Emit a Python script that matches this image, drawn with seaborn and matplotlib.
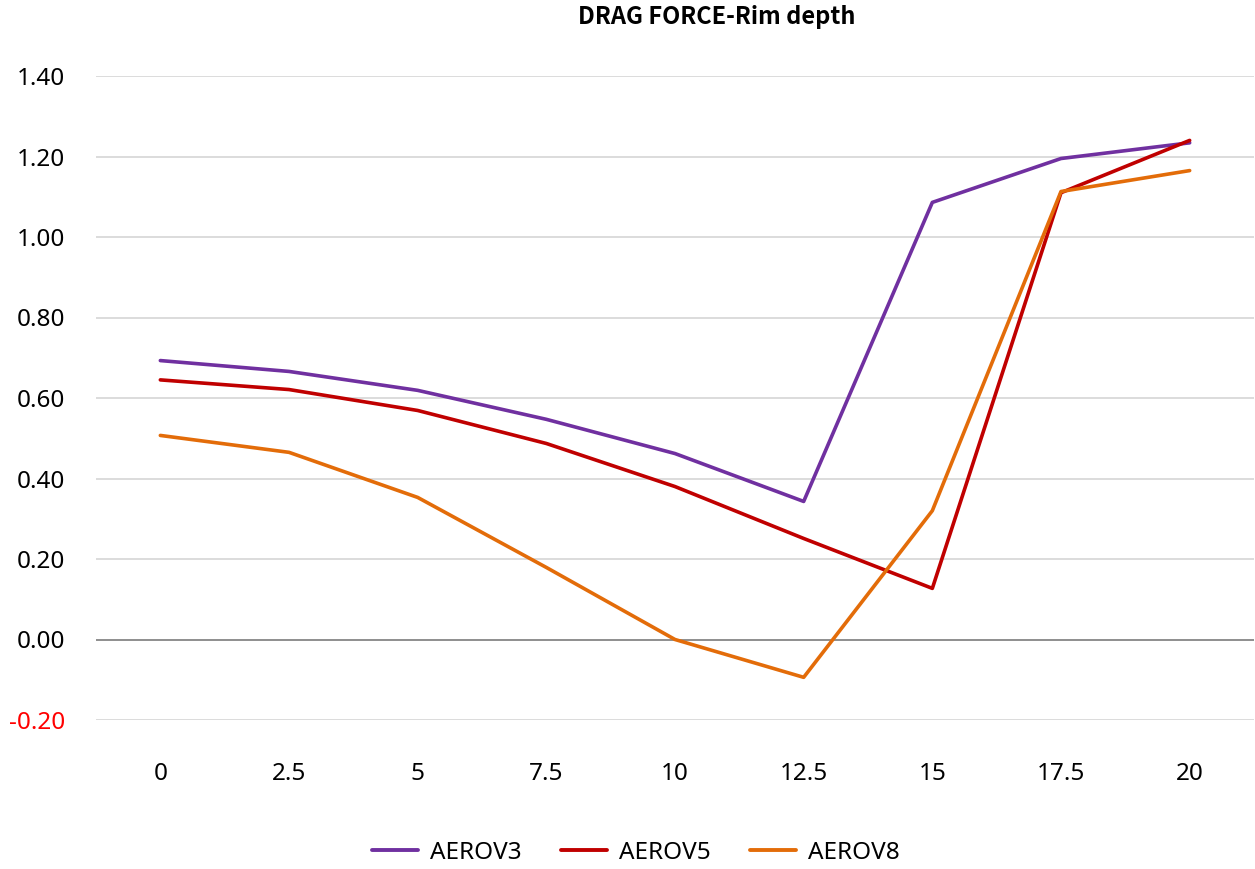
import matplotlib
matplotlib.use("Agg")
import matplotlib.pyplot as plt
import seaborn as sns
import pandas as pd
from matplotlib.lines import Line2D

rim_depth = [0, 2.5, 5, 7.5, 10, 12.5, 15, 17.5, 20]
aerov3 = [0.693, 0.666, 0.619, 0.547, 0.462, 0.343, 1.086, 1.195, 1.234]
aerov5 = [0.645, 0.621, 0.569, 0.487, 0.380, 0.251, 0.127, 1.110, 1.240]
aerov8 = [0.507, 0.465, 0.353, 0.179, 0.000, -0.094, 0.320, 1.113, 1.165]
series_names = ["AEROV3", "AEROV5", "AEROV8"]
colors = ["#7030A0", "#C00000", "#E36C09"]
y_ticks = [-0.20, 0.00, 0.20, 0.40, 0.60, 0.80, 1.00, 1.20, 1.40]

sns.set_theme(style="white")
plt.rcParams['font.family'] = ['Noto Sans', 'Noto Sans CJK KR', 'DejaVu Sans']
plt.rcParams['text.color'] = 'black'
plt.rcParams['xtick.color'] = 'black'
plt.rcParams['ytick.color'] = 'black'

df = pd.DataFrame({"pos": list(range(len(rim_depth))) * 3,
                   "value": aerov3 + aerov5 + aerov8,
                   "series": sum([[n] * len(rim_depth) for n in series_names], [])})

fig = plt.figure(figsize=(12.55, 8.69), dpi=100)
ax = fig.add_axes([96/1255, 1 - 720/869, 1158/1255, (720 - 76)/869])

for y in y_ticks:
    ax.axhline(y, color="#868686" if y == 0 else "#d9d9d9", lw=1.3, zorder=0)

sns.lineplot(data=df, x="pos", y="value", hue="series", palette=colors,
             linewidth=2.6, ax=ax, legend=False, sort=False)

ax.set_xlim(-0.5, len(rim_depth) - 0.5)
ax.set_ylim(-0.20, 1.40)
ax.set_xticks(range(len(rim_depth)))
ax.set_xticklabels([f"{v:g}" for v in rim_depth], fontsize=17.5)
ax.set_yticks(y_ticks)
ax.set_yticklabels([f"{v:.2f}" for v in y_ticks], fontsize=17.5)
for lbl, v in zip(ax.get_yticklabels(), y_ticks):
    if v < 0:
        lbl.set_color("#FF0000")
ax.tick_params(axis="x", pad=30, length=0)
ax.tick_params(axis="y", pad=22, length=0)
for s in ax.spines.values():
    s.set_visible(False)
ax.set_xlabel("")
ax.set_ylabel("")

fig.text(717/1255, 1 - 17/869, "DRAG FORCE-Rim depth", ha="center", va="center",
         fontsize=17, fontweight="bold", family=['Noto Sans CJK KR', 'DejaVu Sans'])

handles = [Line2D([0], [0], color=c, lw=2.8) for c in colors]
fig.legend(handles, series_names, loc="center", bbox_to_anchor=(636/1255, 1 - 853/869),
           ncol=3, frameon=False, fontsize=17.5, handlelength=1.9, columnspacing=1.6,
           handletextpad=0.5)

fig.savefig("out.png", dpi=100)
